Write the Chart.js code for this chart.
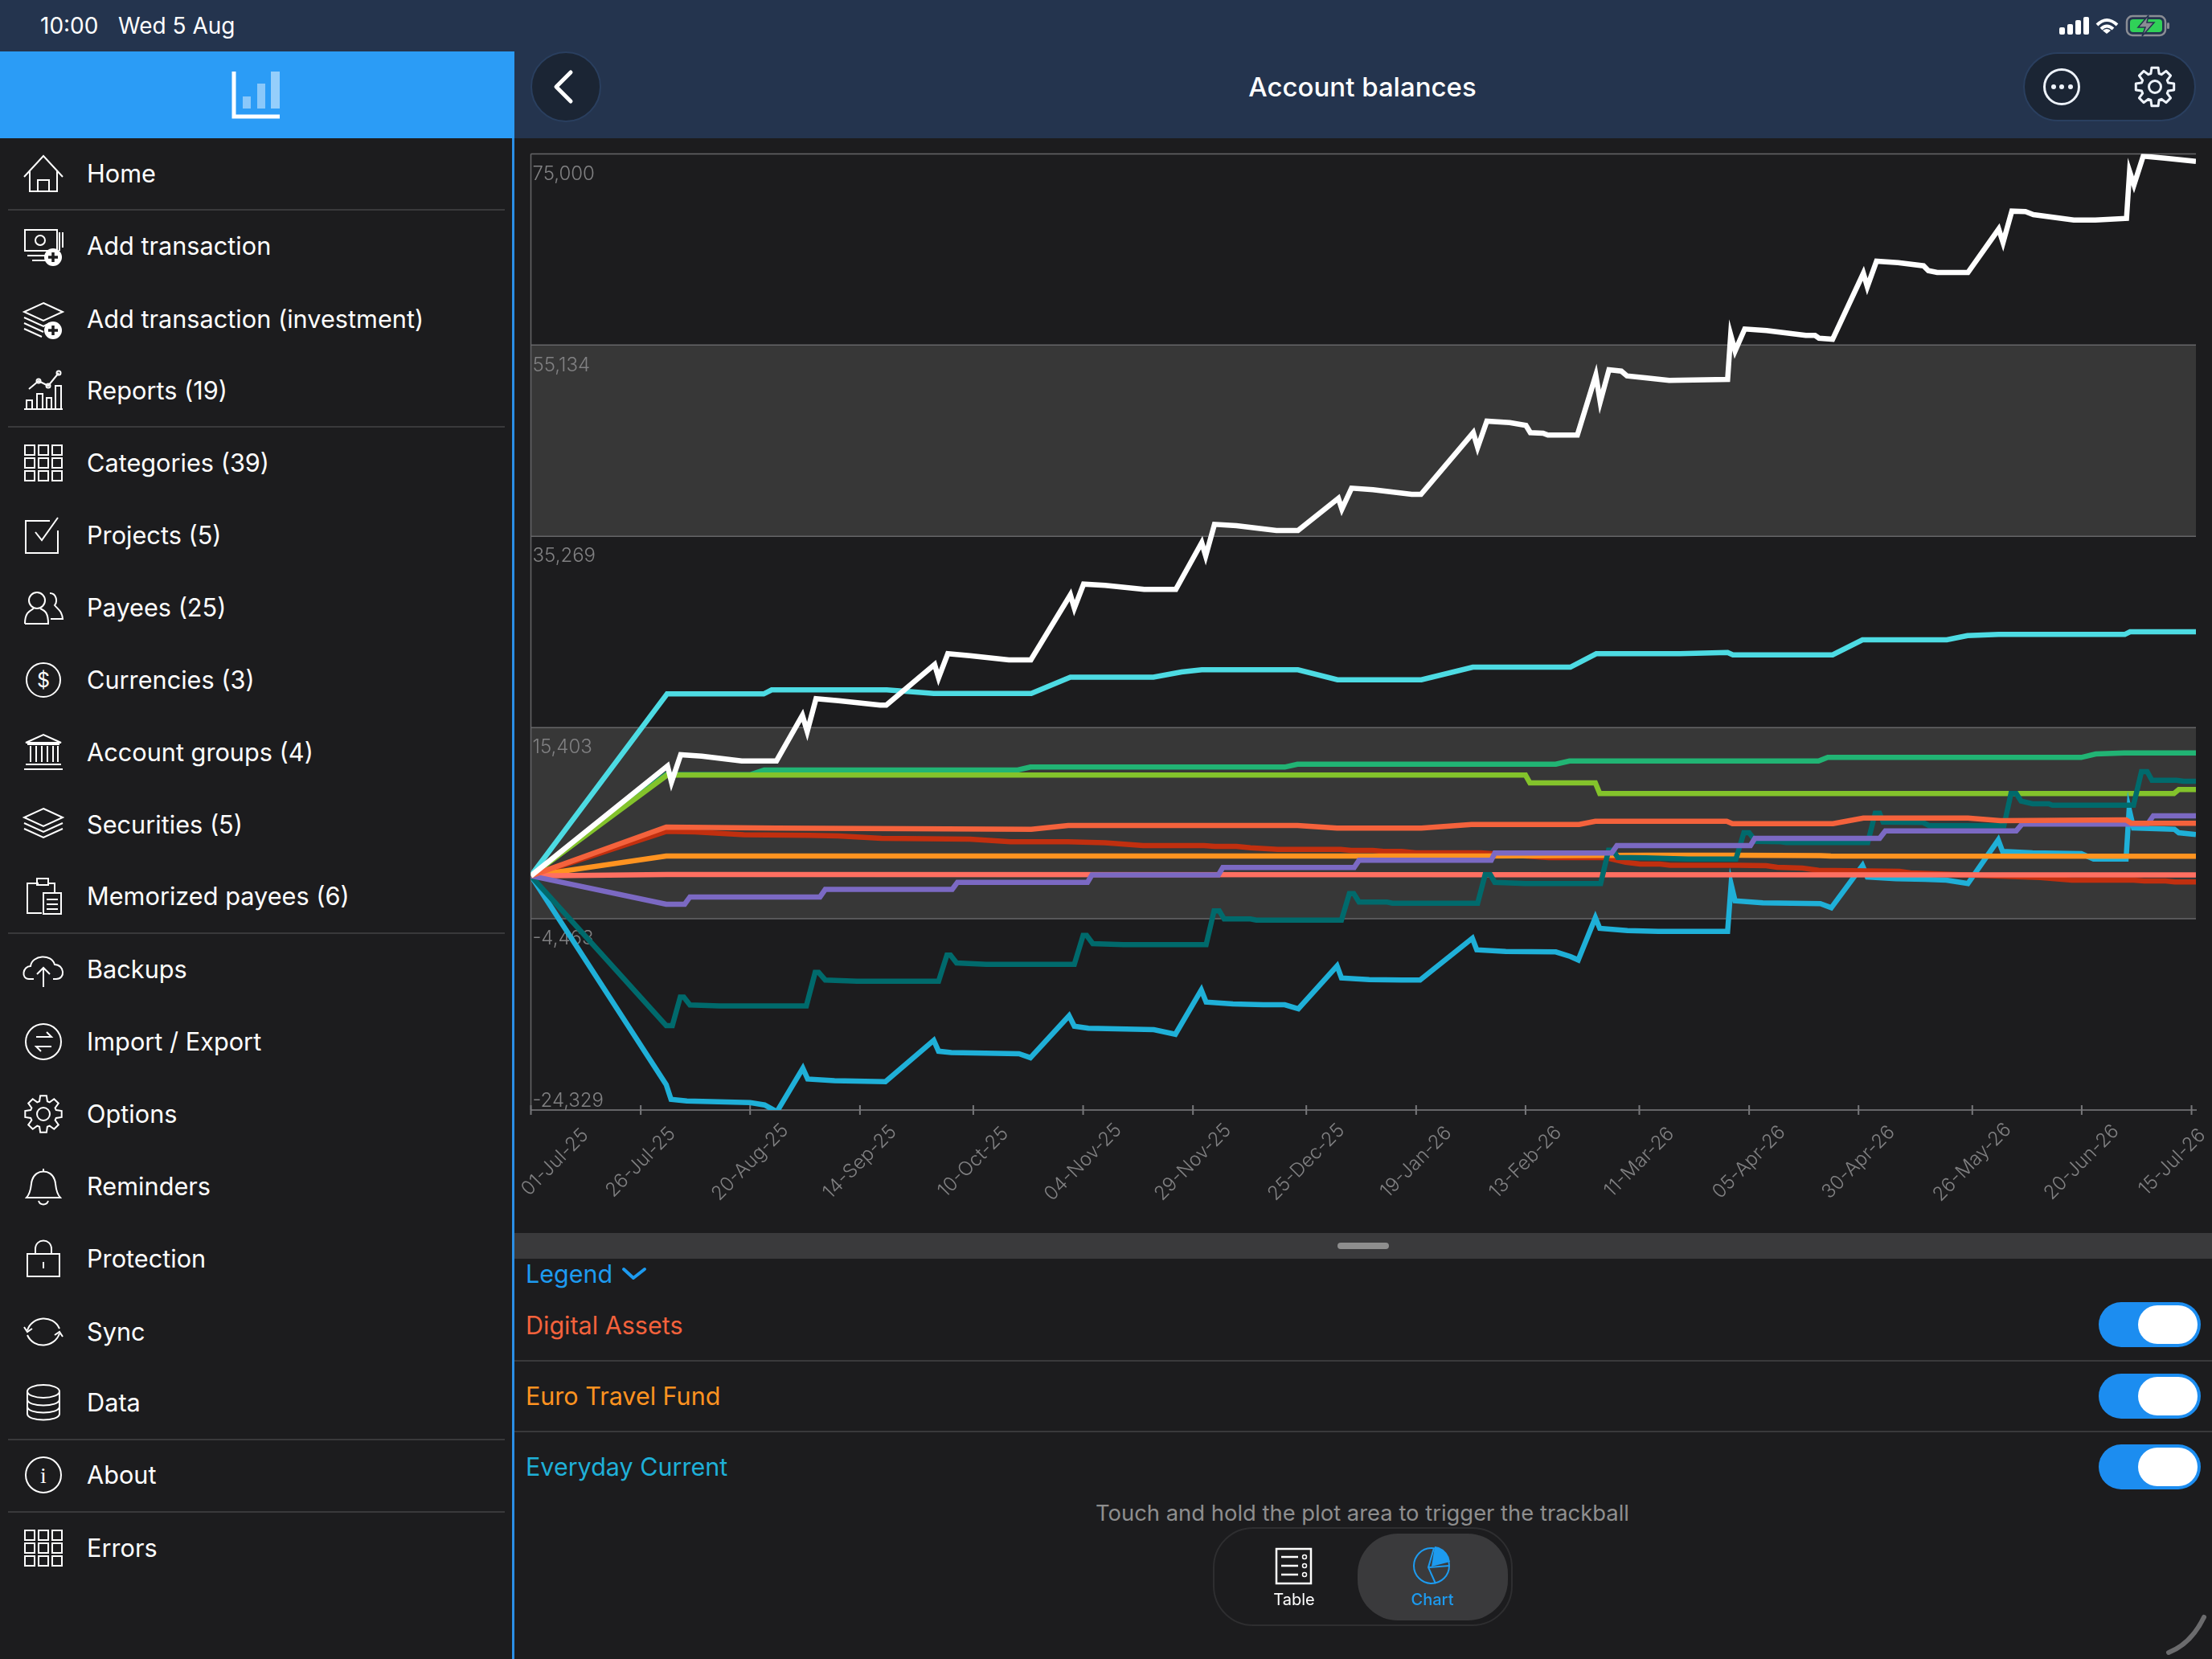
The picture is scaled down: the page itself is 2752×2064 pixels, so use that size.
<!DOCTYPE html>
<html>
<head>
<meta charset="utf-8">
<title>Account balances</title>
<script src="https://cdn.jsdelivr.net/npm/chart.js@4"></script>
<style>
html, body { margin: 0; padding: 0; background: #1c1c1e; }
body { position: relative; width: 2752px; height: 2064px; overflow: hidden; font-family: Inter, sans-serif; color: #fff; }
.abs { position: absolute; }
.txt { position: absolute; white-space: nowrap; transform: translateY(-50%); line-height: 1; }
#topbar { left: 0; top: 0; width: 2752px; height: 172px; background: #24344e; }
#brand { left: 0; top: 64px; width: 640px; height: 108px; background: #2b9cf6; }
#sideline { left: 637px; top: 172px; width: 3px; height: 1892px; background: #2b8fe6; }
.rule { position: absolute; height: 2px; background: #39393b; }
.pill { position: absolute; background: #1b2534; border: 2px solid #2a3f5f; box-sizing: border-box; }
#grabber { left: 640px; top: 1534px; width: 2112px; height: 32px; background: #3a3a3c; }
#handle { left: 1664px; top: 1546px; width: 64px; height: 8px; border-radius: 4px; background: #8e8e8e; }
.toggle { position: absolute; left: 2611px; width: 127px; height: 56px; border-radius: 28px; background: #1c8df0; }
.toggle i { position: absolute; right: 4px; top: 4px; width: 74px; height: 48px; border-radius: 24px; background: #fff; }
#seg { left: 1509px; top: 1900px; width: 373px; height: 123px; border-radius: 50px; border: 2px solid #2e2e30; box-sizing: border-box; }
#segon { left: 1689px; top: 1908px; width: 187px; height: 108px; border-radius: 50px; background: #3a3a3c; }
#chartwrap { left: 640px; top: 172px; width: 2112px; height: 1360px; }
svg { position: absolute; overflow: visible; }
</style>
</head>
<body>
<div class="abs" id="topbar"></div>
<div class="abs" id="brand"></div>
<div class="abs" id="sideline"></div>

<div class="txt" style="left:50px;top:32px;font-size:28px">10:00</div>
<div class="txt" style="left:147px;top:32px;font-size:28px">Wed 5 Aug</div>

<svg style="left:0;top:0" width="2752" height="172">
  <!-- app logo -->
  <path d="M291 89V145H348" fill="none" stroke="#fff" stroke-width="5"/>
  <rect x="302" y="120" width="10" height="15" fill="#fff" opacity="0.45"/>
  <rect x="320" y="104" width="10" height="31" fill="#fff" opacity="0.45"/>
  <rect x="337" y="89" width="11" height="46" fill="#fff" opacity="0.5"/>
  <!-- status icons -->
  <g fill="#fff">
    <rect x="2562" y="34" width="7" height="9" rx="2"/>
    <rect x="2572" y="30" width="7" height="13" rx="2"/>
    <rect x="2582" y="25" width="7" height="18" rx="2"/>
    <rect x="2592" y="21" width="7" height="22" rx="2"/>
  </g>
  <g fill="none" stroke="#fff" stroke-width="4">
    <path d="M2609 31Q2621 19 2634 31"/>
    <path d="M2614 36Q2621 29 2629 36"/>
  </g>
  <path d="M2616 38L2621 42L2626 38Q2621 34 2616 38Z" fill="#fff"/>
  <rect x="2646" y="20" width="48" height="24" rx="7" fill="none" stroke="#8a8d94" stroke-width="2.5"/>
  <rect x="2650" y="24" width="40" height="16" rx="4" fill="#30d158"/>
  <rect x="2696" y="28" width="3" height="8" rx="1.5" fill="#8a8d94"/>
  <path d="M2673 19L2660 34H2669L2665 45L2680 28H2671Z" fill="#8a8d94" stroke="#24344e" stroke-width="1.5"/>
</svg>

<!-- nav bar buttons -->
<div class="pill" style="left:660px;top:64px;width:88px;height:88px;border-radius:44px"></div>
<div class="pill" style="left:2517px;top:65px;width:215px;height:86px;border-radius:43px"></div>
<svg style="left:0;top:0" width="2752" height="172">
  <path d="M710 90L692 108L710 126" fill="none" stroke="#fff" stroke-width="5" stroke-linecap="round" stroke-linejoin="round"/>
  <circle cx="2565" cy="108" r="21.5" fill="none" stroke="#eef3fb" stroke-width="3"/>
  <circle cx="2555" cy="108" r="3" fill="#eef3fb"/><circle cx="2565" cy="108" r="3" fill="#eef3fb"/><circle cx="2576" cy="108" r="3" fill="#eef3fb"/>
  <g id="navgear"></g>
</svg>
<div class="txt" style="left:1695px;top:108px;transform:translate(-50%,-50%);font-size:33px;font-weight:500">Account balances</div>

<div id="menu"></div>

<div class="abs" id="chartwrap"><canvas id="myChart" width="2112" height="1360"></canvas></div>

<div class="abs" id="grabber"></div>
<div class="abs" id="handle"></div>

<div class="txt" style="left:654px;top:1585px;font-size:30.5px;color:#1d9bf0">Legend</div>
<svg style="left:0;top:0" width="10" height="10"><path d="M776 1579L788 1590L802 1579" fill="none" stroke="#1d9bf0" stroke-width="4" stroke-linecap="round" stroke-linejoin="round"/></svg>

<div class="txt" style="left:654px;top:1649px;font-size:30.5px;color:#f4623c">Digital Assets</div>
<div class="rule" style="left:640px;top:1692px;width:2112px"></div>
<div class="txt" style="left:654px;top:1737px;font-size:30.5px;color:#ff9320">Euro Travel Fund</div>
<div class="rule" style="left:640px;top:1780px;width:2112px"></div>
<div class="txt" style="left:654px;top:1825px;font-size:30.5px;color:#1fb0d8">Everyday Current</div>
<div class="toggle" style="top:1620px"><i></i></div>
<div class="toggle" style="top:1709px"><i></i></div>
<div class="toggle" style="top:1797px"><i></i></div>

<div class="txt" style="left:1695px;top:1883px;transform:translate(-50%,-50%);font-size:27.4px;color:#8e8e8e">Touch and hold the plot area to trigger the trackball</div>

<div class="abs" id="seg"></div>
<div class="abs" id="segon"></div>
<svg style="left:0;top:0" width="10" height="10">
  <rect x="1588" y="1927" width="43" height="43" fill="none" stroke="#fff" stroke-width="2.5"/>
  <path d="M1594 1937H1615M1594 1948H1615M1594 1959H1615" stroke="#fff" stroke-width="2.5"/>
  <circle cx="1623" cy="1937" r="2.5" fill="none" stroke="#fff" stroke-width="1.5"/>
  <circle cx="1623" cy="1948" r="2.5" fill="none" stroke="#fff" stroke-width="1.5"/>
  <circle cx="1623" cy="1959" r="2.5" fill="none" stroke="#fff" stroke-width="1.5"/>
  <circle cx="1781" cy="1948" r="22" fill="none" stroke="#1d9bf0" stroke-width="2"/>
  <path d="M1785 1924L1790 1925A22 22 0 0 1 1804 1943L1781 1949Z" fill="#1d9bf0"/>
  <path d="M1784 1926L1777 1950L1786 1970M1777 1950L1803 1948" fill="none" stroke="#1d9bf0" stroke-width="2"/>
  <path d="M2698 2056Q2726 2045 2742 2012" fill="none" stroke="#6b6b6d" stroke-width="6" stroke-linecap="round"/>
</svg>
<div class="txt" style="left:1610px;top:1990px;transform:translate(-50%,-50%);font-size:20px">Table</div>
<div class="txt" style="left:1782px;top:1990px;transform:translate(-50%,-50%);font-size:20px;font-weight:500;color:#1d9bf0">Chart</div>

<script>
// Axis ticks, the x axis runs in plot days, 379 is the right edge
var xTickDays = [0, 25, 49.9, 74.9, 100.7, 125.7, 150.7, 176.5, 201.5, 226.4, 252.3, 277.3, 302.2, 328.1, 353, 378];
var xTickLabels = ["01-Jul-25", "26-Jul-25", "20-Aug-25", "14-Sep-25", "10-Oct-25", "04-Nov-25", "29-Nov-25", "25-Dec-25",
    "19-Jan-26", "13-Feb-26", "11-Mar-26", "05-Apr-26", "30-Apr-26", "26-May-26", "20-Jun-26", "15-Jul-26"];
var yTickValues = [75000, 55134, 35269, 15403, -4463, -24329];
var yTickLabels = ["75,000", "55,134", "35,269", "15,403", "-4,463", "-24,329"];

// White line
var totalDays = [0, 31.1, 32, 34.1, 38.9, 48, 55.9, 61.8, 62.9, 64.9, 70, 79.5, 80.9, 91.9, 92.8, 94.9, 99.9, 108.8, 113.8,
    122.8, 123.7, 125.8, 130.7, 139.6, 146.8, 152.7, 153.6, 155.6, 160.6, 169.7, 174.6, 183.8, 184.6, 186.8, 191.7, 200.5, 202.6,
    214.5, 215.5, 217.6, 222.8, 226.5, 227.5, 230.4, 231.5, 238.2, 242.4, 243.4, 245.4, 248.2, 249.5, 253.6, 259.1, 272.4,
    273.1, 274.1, 276.3, 281.3, 290.2, 292.3, 293.2, 296.3, 303.3, 304.2, 306.3, 311.2, 317, 318.1, 320.1, 327.1,
    334.1, 335.1, 337.1, 340.2, 342, 351.2, 356.1, 363.2, 363.9, 364.9, 367, 371.9, 379];
var totalValues = [0, 11406, 9736, 12575, 12433, 11932, 11932, 16667, 14997, 18395, 18195, 17727, 17727, 21952, 20566, 23071, 22871, 22428, 22428,
    29192, 27797, 30302, 30169, 29751, 29751, 34619, 33225, 36515, 36373, 35872, 35872, 39212, 38101, 40272, 40105, 39629, 39629,
    46034, 44497, 47228, 47086, 46785, 46034, 45975, 45783, 45783, 52012, 49232, 52572, 52430, 51929, 51737, 51461, 51570,
    56187, 54517, 56805, 56638, 56137, 56137, 55853, 55745, 62592, 61197, 63844, 63702, 63368, 62867, 62675, 62675,
    67184, 65790, 69046, 68996, 68687, 68128, 68128, 68295, 73171, 71777, 74758, 74557, 74223];

// Light cyan line
var cyanDays = [0, 31, 53, 54.8, 81, 91.7, 113.9, 122.8, 141.7, 148.1, 152.7, 174.6, 183.6, 202.7, 214.4, 236.6, 242.5, 261.5, 272.4, 273.6, 296.3, 303.1, 322.3, 327, 334.1, 362.8, 364, 379];
var cyanValues = [0, 18896, 18896, 19314, 19314, 18946, 18946, 20633, 20633, 21176, 21401, 21401, 20366, 20366, 21677, 21677, 23071, 23071, 23205, 22954, 22954, 24516, 24516, 24958, 25075, 25075, 25351, 25351];

// Digital Assets
var digitalDays = [0, 30.8, 56, 113.9, 122.3, 174.5, 183.5, 202.7, 214.1, 238.6, 242.3, 272.2, 273.5, 296.4, 303.3, 327.1, 334.5, 363.1, 364.3, 379];
var digitalValues = [0, 5060, 4960, 4826, 5227, 5227, 4952, 4952, 5336, 5336, 5670, 5670, 5419, 5419, 6004, 6004, 5728, 5812, 5453, 5453];

// Purple line
var purpleDays = [0, 30.8, 35, 36.2, 65.8, 67, 95.9, 97.1, 126.7, 127.7, 156.5, 157.5, 187.4, 188.5, 218.6, 219.4, 246, 247.2, 277.6, 278.6, 307, 308.3, 338.1, 339.4, 368, 369.3, 379];
var purpleValues = [0, -2948, -2948, -2196, -2196, -1411, -1411, -668, -668, 92, 92, 860, 860, 1612, 1612, 2363, 2363, 3140, 3140, 3891, 3891, 4668, 4668, 5369, 5369, 6229, 6229];

// Dark teal line
var tealDays = [0, 30.8, 32.2, 34, 34.8, 36.2, 42.9, 62.7, 64.7, 65.5, 67, 74.2, 92.8, 94.7, 95.5, 96.9, 103.6, 123.7, 125.7, 126.5, 127.9, 134.9,
    153.7, 155.5, 156.7, 157.8, 163.8, 165.1, 184.5, 186.3, 187.3, 188.5, 194.9, 196.1, 215.5, 217.2, 218.4, 219.4, 226.4, 243.5, 245.3, 246.3, 247.4, 253.7, 263.4,
    274.3, 276.1, 277.3, 278.8, 284.5, 285.7, 304.3, 306, 307, 307.8, 316.9, 318.3, 335.3, 336.9, 338.1, 339.2, 341.8, 345.5, 346.3, 364.8, 366.6, 367.9, 369, 374.6, 376.2, 379];
var tealValues = [0, -15556, -15556, -12592, -12592, -13410, -13510, -13510, -10037, -10037, -10822, -10955, -10955, -8233, -8233, -9051, -9185, -9185, -6187, -6187, -7039, -7139,
    -7139, -3649, -3649, -4484, -4484, -4601, -4601, -1845, -1845, -2730, -2730, -2847, -2847, 109, 109, -676, -810, -810, 2664, 2664, 1912, 1862, 1745,
    1745, 4476, 4476, 3582, 3532, 3449, 3449, 6505, 6505, 5586, 5536, 5202, 5202, 8542, 8542, 7757, 7482, 7482, 7340, 7340, 10822, 10822, 9928, 9928, 9820, 9820];

// Salmon line
var salmonDays = [0, 31, 379];
var salmonValues = [0, 130, 100];

// Euro Travel Fund
var euroDays = [0, 30.8, 151.6, 216, 254.2, 273.8, 293.5, 295.9, 379];
var euroValues = [0, 2062, 2054, 2054, 2138, 2138, 2096, 2054, 2029];

// Dark red line
var redDays = [0, 30.8, 37.3, 48.5, 63.4, 70, 79.8, 99.9, 109.2, 122.3, 130.7, 139.4, 153.2, 155.7, 160.6, 163.8, 170, 184.3, 186.7, 191.6, 194.1, 198.2, 201.4, 216.2,
    231.7, 244.7, 249.2, 252.5, 257, 259.3, 274.7, 281.2, 283.7, 289.4, 293.1, 311.5, 314, 343.5, 350.8, 364.8, 367.2, 372.1, 374.2, 379];
var redValues = [0, 4618, 4559, 4275, 4208, 4142, 3899, 3808, 3532, 3532, 3424, 3140, 3140, 3056, 3056, 2914, 2747, 2747, 2639, 2639, 2530, 2530, 2388, 2388,
    1887, 1887, 1411, 1219, 1219, 1094, 1094, 1052, 885, 802, 576, 468, 301, -175, -451, -451, -534, -534, -643, -643];

// Everyday Current
var everydayDays = [0, 30.8, 31.9, 35.5, 49.9, 53.2, 56, 61.9, 63, 69.1, 80.7, 91.7, 92.8, 95.7, 111.1, 113.7, 122.5, 123.7, 126.9, 141.8, 146.7, 152.6, 153.7, 159.8, 166.7, 171.6, 174.7,
    183.5, 184.5, 190.8, 198.2, 202.4, 214.3, 215.3, 221.9, 233.3, 236.6, 238.4, 242.3, 243.3, 249.6, 256.6, 272.4, 273.2, 274.1, 280.4, 293.5, 296,
    303.1, 304.2, 310.7, 317.3, 322.2, 327.1, 334, 335, 341.8, 352.9, 355.7, 363.1, 363.8, 364.8, 374.1, 375.1, 379];
var everydayValues = [0, -21693, -23230, -23397, -23564, -23806, -24500, -19990, -21109, -21284, -21384, -17092, -18220, -18353, -18487, -18896, -14537, -15623, -15832, -15982, -16458, -11865, -13118, -13310, -13393, -13393, -13811,
    -9360, -10613, -10780, -10830, -10830, -6488, -7690, -7857, -7907, -8383, -8742, -4350, -5461, -5686, -5770, -5770, -868, -2597, -2814, -2897, -3315,
    1077, -117, -309, -367, -451, -810, 3724, 2530, 2388, 2305, 1745, 1745, 6922, 4977, 4835, 4476, 4284];

// Lime line
var limeDays = [0, 31, 226.4, 227.4, 242.3, 243.3, 374, 375.1, 379];
var limeValues = [0, 10463, 10463, 9653, 9653, 8542, 8542, 8960, 8960];

// Green line
var greenDays = [0, 30.8, 49.9, 53.1, 110.8, 113.7, 171.6, 174.5, 233.3, 236.4, 293.1, 295.2, 352.9, 356.2, 362.7, 379];
var greenValues = [0, 10513, 10513, 10989, 10989, 11298, 11298, 11598, 11598, 11932, 11932, 12300, 12300, 12659, 12767, 12767];

function to_points(days, values) {
    return days.map((d, i) => ({ x: d, y: values[i] }));
}

function line_set(label, days, values, color) {
    return {
        label: label,
        data: to_points(days, values),
        borderColor: color,
        borderWidth: 6.5,
        borderJoinStyle: 'miter',
        pointRadius: 0,
        tension: 0,
        fill: false,
        clip: 0,
    };
}

// Bands, tick labels and tick marks are drawn here, the labels sit inside the plot in the original
var axisPlugin = {
    id: 'axisDecor',
    beforeDatasetsDraw(chart) {
        var ctx = chart.ctx, area = chart.chartArea, y = chart.scales.y;
        ctx.save();
        ctx.fillStyle = '#373737';
        [[1, 2], [3, 4]].forEach(function (b) {
            var top = y.getPixelForValue(yTickValues[b[0]]);
            var bottom = y.getPixelForValue(yTickValues[b[1]]);
            ctx.fillRect(area.left, top, area.right - area.left, bottom - top);
        });
        ctx.strokeStyle = '#666668';
        ctx.lineWidth = 1.5;
        yTickValues.forEach(function (v) {
            var py = y.getPixelForValue(v);
            ctx.beginPath();
            ctx.moveTo(area.left, py);
            ctx.lineTo(area.right, py);
            ctx.stroke();
        });
        ctx.beginPath();
        ctx.moveTo(area.left, area.top);
        ctx.lineTo(area.left, area.bottom);
        ctx.stroke();
        // tick labels of the y axis
        ctx.font = '300 24px Inter';
        ctx.fillStyle = '#808082';
        ctx.textAlign = 'left';
        ctx.textBaseline = 'middle';
        yTickValues.forEach(function (v, i) {
            var py = y.getPixelForValue(v);
            var dy = (i === yTickValues.length - 1) ? -11 : 25;
            ctx.fillText(yTickLabels[i], area.left + 2, py + dy);
        });
        // x ticks and rotated labels, centred on the tick except at the two ends
        var x = chart.scales.x;
        ctx.lineWidth = 2;
        ctx.strokeStyle = '#77777a';
        xTickDays.forEach(function (d, i) {
            var px = x.getPixelForValue(d);
            ctx.beginPath();
            ctx.moveTo(px, area.bottom - 6);
            ctx.lineTo(px, area.bottom + 6);
            ctx.stroke();
            var cx = px;
            if (i === 0) cx = px + 30;
            if (i === xTickDays.length - 1) cx = px - 24;
            ctx.save();
            ctx.translate(cx, area.bottom + 65);
            ctx.rotate(-Math.PI / 4);
            ctx.textAlign = 'center';
            ctx.textBaseline = 'middle';
            ctx.font = '300 24px Inter';
            ctx.fillStyle = '#808082';
            ctx.fillText(xTickLabels[i], 0, 0);
            ctx.restore();
        });
        ctx.restore();
    }
};

function create_chart() {
    var ctx = document.getElementById('myChart').getContext('2d');
    globalThis.chart = new Chart(ctx, {
        type: 'line',
        plugins: [axisPlugin],
        data: {
            datasets: [
                // first set is drawn on top
                line_set('Total', totalDays, totalValues, '#ffffff'),
                line_set('Cyan', cyanDays, cyanValues, '#4ddbe3'),
                line_set('Digital Assets', digitalDays, digitalValues, '#f4623c'),
                line_set('Purple', purpleDays, purpleValues, '#7b69c3'),
                line_set('Teal', tealDays, tealValues, '#006a6c'),
                line_set('Salmon', salmonDays, salmonValues, '#ff6f61'),
                line_set('Euro Travel Fund', euroDays, euroValues, '#ff9320'),
                line_set('Red', redDays, redValues, '#c12f0f'),
                line_set('Everyday Current', everydayDays, everydayValues, '#1fb0d8'),
                line_set('Lime', limeDays, limeValues, '#83c32b'),
                line_set('Green', greenDays, greenValues, '#21b474'),
            ]
        },
        options: {
            responsive: false,
            devicePixelRatio: 1,
            animation: false,
            layout: { padding: { left: 20.5, right: 20, top: 19.4, bottom: 151 } },
            plugins: { legend: { display: false }, tooltip: { enabled: false } },
            scales: {
                x: {
                    type: 'linear',
                    min: 0,
                    max: 379,
                    grid: { display: false, drawTicks: false },
                    border: { color: '#666668', width: 2 },
                    ticks: { display: false },
                    afterBuildTicks: (s) => { s.ticks = xTickDays.map((d) => ({ value: d })); },
                },
                y: {
                    min: -24329,
                    max: 75000,
                    grid: { display: false, drawTicks: false },
                    border: { display: false },
                    ticks: { display: false },
                    afterBuildTicks: (s) => { s.ticks = yTickValues.map((v) => ({ value: v })); },
                }
            }
        }
    });
}

// Side menu
var menuLabels = ["Home", "Add transaction", "Add transaction (investment)", "Reports (19)", "Categories (39)", "Projects (5)", "Payees (25)",
    "Currencies (3)", "Account groups (4)", "Securities (5)", "Memorized payees (6)", "Backups", "Import / Export", "Options", "Reminders",
    "Protection", "Sync", "Data", "About", "Errors"];
var menuRows = [216, 306, 397, 486, 576, 666, 756, 846, 936, 1026, 1115, 1206, 1296, 1386, 1476, 1566, 1657, 1745, 1835, 1926];
var menuRules = [260, 530, 1160, 1790, 1880];

function gear_path(cx, cy, r) {
    // cog with eight teeth
    var d = '';
    for (var i = 0; i < 8; i++) {
        var a = i * Math.PI / 4;
        var pts = [[r * 0.72, -0.3], [r, -0.17], [r, 0.17], [r * 0.72, 0.3]];
        pts.forEach(function (p, j) {
            var px = cx + p[0] * Math.cos(a + p[1]), py = cy + p[0] * Math.sin(a + p[1]);
            d += (i === 0 && j === 0 ? 'M' : 'L') + px.toFixed(1) + ' ' + py.toFixed(1);
        });
    }
    return d + 'Z';
}

var grid3 = '';
[0, 16, 32].forEach(function (gy) {
    [0, 17, 34].forEach(function (gx) {
        grid3 += '<rect x="' + (31 + gx) + '" y="' + (gy - 22) + '" width="12" height="12"/>';
    });
});
var plusBadge = function (cx, cy) {
    return '<circle cx="' + cx + '" cy="' + cy + '" r="11" fill="#fff" stroke="none"/><path d="M' + (cx - 6) + ' ' + cy + 'H' + (cx + 6) + 'M' + cx + ' ' + (cy - 6) + 'V' + (cy + 6) + '" stroke="#1c1c1e" stroke-width="3.5"/>';
};
var menuIcons = [
    '<path d="M30 4L54 -22L78 4M37 -3V22H71V-3M47 22V8H61V22"/>',
    '<rect x="31" y="-20" width="40" height="26"/><circle cx="50" cy="-7" r="6"/><path d="M74 -17V6M78 -17V2M34 12H60M40 18H58"/>' + plusBadge(66, 14),
    '<path d="M54 -20L78 -9L54 2L30 -9ZM30 -2L54 9L62 5M30 5L54 16M30 12L52 22"/>' + plusBadge(66, 14),
    '<path d="M30 23H78M33 23V12H40V23M46 23V4H53V23M58 23V9H64V23M69 23V-6H76V23M36 -2L48 -12L60 -6L73 -22"/><circle cx="48" cy="-12" r="2.5"/><circle cx="60" cy="-6" r="2.5"/><circle cx="73" cy="-22" r="2.5"/>',
    grid3,
    '<path d="M72 -6V22H32V-18H62M44 -4L52 6L72 -22"/>',
    '<circle cx="46" cy="-9" r="10"/><path d="M31 20C31 6 37 4 42 1M50 1C56 4 60 6 60 20H31M62 -18C70 -18 72 -8 68 -3C72 2 77 4 78 14H63"/>',
    '<circle cx="54" cy="0" r="21"/><text x="54" y="9" font-family="Inter" font-size="25" text-anchor="middle" fill="#fff" stroke="none">$</text>',
    '<path d="M32 -12L54 -22L76 -12ZM34 -10H74M38 -8V12M45 -8V12M52 -8V12M59 -8V12M66 -8V12M72 -8V12M32 15H76M30 21H78"/>',
    '<path d="M54 -20L78 -9L54 2L30 -9ZM30 -2L54 9L78 -2M30 5L54 16L78 5"/>',
    '<path d="M48 -16H34V21H52M46 -22H60V-14H46ZM60 -16H68V-4M54 -4H76V22H54ZM58 4H72M58 10H72M58 16H72"/>',
    '<path d="M42 12H36C26 12 28 -4 38 -4C40 -18 64 -20 68 -6C80 -6 82 12 70 12H66M54 22V-2M46 6L54 -2L62 6"/>',
    '<circle cx="54" cy="0" r="22"/><path d="M45 -6H64L58 -12M64 6H45L51 12"/>',
    '<path d="' + gear_path(54, 0, 23) + '"/><circle cx="54" cy="0" r="8"/>',
    '<path d="M33 14C40 6 38 -4 40 -8C44 -22 64 -22 68 -8C70 -4 68 6 75 14ZM48 18C50 24 58 24 60 18M54 -22V-18"/>',
    '<rect x="34" y="-6" width="40" height="28"/><path d="M44 -6V-12C44 -26 64 -26 64 -12V-6M54 4V12"/>',
    '<path d="M34 -2C40 -20 66 -22 74 -4M74 2C68 20 42 22 34 4M30 -6L34 0L40 -4M78 6L74 0L68 4"/>',
    '<ellipse cx="54" cy="-14" rx="20" ry="8"/><path d="M34 -14V14C34 24 74 24 74 14V-14M34 -4C34 6 74 6 74 -4M34 5C34 15 74 15 74 5"/>',
    '<circle cx="54" cy="0" r="22"/><text x="54" y="10" font-family="Liberation Serif" font-size="28" text-anchor="middle" fill="#fff" stroke="none">i</text>',
    grid3
];

function build_menu() {
    var html = '';
    menuLabels.forEach(function (label, i) {
        html += '<div class="txt" style="left:108px;top:' + menuRows[i] + 'px;font-size:30.7px;font-weight:400">' + label + '</div>';
        html += '<svg style="left:0;top:' + menuRows[i] + 'px" width="10" height="10"><g fill="none" stroke="#fff" stroke-width="2">' + menuIcons[i] + '</g></svg>';
    });
    menuRules.forEach(function (r) {
        html += '<div class="rule" style="left:10px;top:' + r + 'px;width:618px"></div>';
    });
    document.getElementById('menu').innerHTML = html;
    document.getElementById('navgear').innerHTML = '<path d="' + gear_path(2681, 108, 24) + '" fill="none" stroke="#eef3fb" stroke-width="3" stroke-linejoin="round"/><circle cx="2681" cy="108" r="7.5" fill="none" stroke="#eef3fb" stroke-width="3"/>';
}

build_menu();
create_chart();
</script>
</body>
</html>
